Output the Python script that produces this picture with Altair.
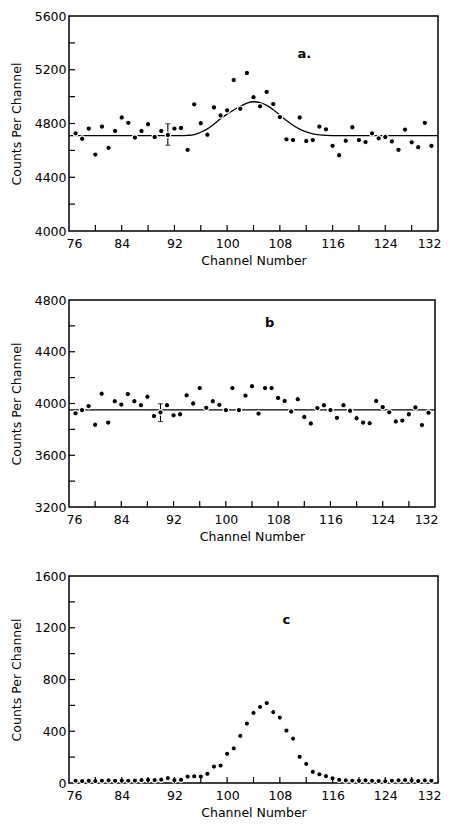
import altair as alt
import pandas as pd

# ---------------- data ----------------
channels = [77, 78, 79, 80, 81, 82, 83, 84, 85, 86, 87, 88, 89, 90, 91, 92, 93, 94, 95,
            96, 97, 98, 99, 100, 101, 102, 103, 104, 105, 106, 107, 108, 109, 110, 111,
            112, 113, 114, 115, 116, 117, 118, 119, 120, 121, 122, 123, 124, 125, 126,
            127, 128, 129, 130, 131]

counts_a = [4727, 4687, 4762, 4569, 4777, 4619, 4745, 4845, 4805, 4695, 4745, 4795, 4700,
            4745, 4715, 4762, 4767, 4604, 4943, 4802, 4717, 4920, 4860, 4898, 5124, 4910,
            5176, 4996, 4928, 5036, 4945, 4848, 4682, 4677, 4845, 4670, 4677, 4777, 4757,
            4634, 4564, 4672, 4772, 4677, 4662, 4727, 4690, 4700, 4667, 4604, 4755, 4660,
            4624, 4805, 4634]

counts_b = [3924, 3949, 3980, 3836, 4076, 3853, 4018, 3992, 4073, 4018, 3987, 4053, 3904,
            3932, 3987, 3909, 3917, 4063, 4000, 4119, 3967, 4018, 3990, 3949, 4119, 3949,
            4061, 4134, 3922, 4119, 4119, 4043, 4020, 3939, 4033, 3896, 3846, 3965, 3987,
            3949, 3889, 3987, 3944, 3886, 3853, 3848, 4020, 3972, 3932, 3861, 3868, 3917,
            3970, 3833, 3929]

counts_c = [18, 16, 17, 15, 18, 20, 17, 19, 18, 19, 22, 24, 22, 26, 38, 22, 25, 50, 52, 50,
            72, 127, 135, 226, 268, 364, 460, 542, 588, 618, 548, 506, 406, 343, 203, 148,
            87, 68, 53, 37, 25, 20, 18, 18, 20, 17, 15, 14, 18, 20, 22, 20, 16, 20, 18]

fit_a_channels = [76, 77, 78, 79, 80, 81, 82, 83, 84, 85, 86, 87, 88, 89, 90, 91, 92, 93,
                  94, 95, 96, 97, 98, 99, 100, 101, 102, 103, 104, 105, 106, 107, 108, 109,
                  110, 111, 112, 113, 114, 115, 116, 117, 118, 119, 120, 121, 122, 123, 124,
                  125, 126, 127, 128, 129, 130, 131, 132]
fit_a = [4710, 4710, 4710, 4710, 4710, 4710, 4710, 4710, 4710, 4710, 4710, 4710, 4710, 4710,
         4710, 4710, 4710, 4710, 4712, 4718, 4735, 4760, 4795, 4835, 4870, 4900, 4928, 4952,
         4962, 4955, 4935, 4903, 4862, 4822, 4787, 4758, 4737, 4723, 4715, 4711, 4710, 4710,
         4710, 4710, 4710, 4710, 4710, 4710, 4710, 4710, 4710, 4710, 4710, 4710, 4710, 4710,
         4710]

fit_b_channels = [76, 132]
fit_b = [3950, 3950]

err_a_channel, err_a_low, err_a_high = 91, 4638, 4798
err_b_channel, err_b_low, err_b_high = 90, 3860, 3998

x_label_values = [76, 84, 92, 100, 108, 116, 124, 132]
x_tick_values = [80, 84, 88, 92, 96, 100, 104, 108, 112, 116, 120, 124, 128]

y_labels_a = [4000, 4400, 4800, 5200, 5600]
y_ticks_a = [4200, 4400, 4600, 4800, 5000, 5200, 5400]
y_labels_b = [3200, 3600, 4000, 4400, 4800]
y_ticks_b = [3400, 3600, 3800, 4000, 4200, 4400, 4600]
y_labels_c = [0, 400, 800, 1200, 1600]
y_ticks_c = [200, 400, 600, 800, 1000, 1200, 1400]

panel_letters = ["a.", "b", "c"]
letter_x = [111.7, 106.7, 109.0]
letter_y = [5320, 4620, 1262]

FONT = "DejaVu Sans"


def panel(counts, ydom, ylabels, yticks, letter, lx, ly, w, h,
          fit_ch=None, fit_vals=None, err=None, dot_size=30):
    xenc = alt.X("channel:Q",
                 scale=alt.Scale(domain=[76, 132], nice=False, zero=False),
                 axis=alt.Axis(values=x_label_values, title="Channel Number",
                               ticks=False, domain=False, grid=False,
                               labelFlush=True, labelFlushOffset=3,
                               labelPadding=6, titlePadding=5))
    yenc = alt.Y("counts:Q",
                 scale=alt.Scale(domain=ydom, nice=False, zero=False),
                 axis=alt.Axis(values=ylabels, title="Counts Per Channel", format="d",
                               ticks=False, domain=False, grid=False,
                               labelPadding=3, titlePadding=11))

    layers = []
    if fit_ch is not None:
        fit_df = pd.DataFrame({"channel": fit_ch, "counts": fit_vals})
        layers.append(alt.Chart(fit_df).mark_line(color="black", strokeWidth=1.3,
                                                  interpolate="monotone")
                      .encode(x=xenc, y=yenc))
    if err is not None:
        ch, lo, hi = err
        err_df = pd.DataFrame({"channel": [ch], "counts": [lo], "high": [hi]})
        layers.append(alt.Chart(err_df).mark_rule(color="black", strokeWidth=1.1)
                      .encode(x=xenc, y=yenc, y2="high:Q"))
        cap_df = pd.DataFrame({"channel": [ch, ch], "counts": [lo, hi]})
        layers.append(alt.Chart(cap_df).mark_tick(color="black", orient="horizontal",
                                                  size=5, thickness=1.1)
                      .encode(x=xenc, y=yenc))
    pts = pd.DataFrame({"channel": channels, "counts": counts})
    layers.append(alt.Chart(pts).mark_circle(size=dot_size, color="black", opacity=1,
                                             stroke="white", strokeWidth=1.2)
                  .encode(x=xenc, y=yenc))
    xt = pd.DataFrame({"channel": x_tick_values})
    layers.append(alt.Chart(xt).mark_rule(color="black", strokeWidth=1.2)
                  .encode(x=xenc, y=alt.value(h), y2=alt.value(h - 6)))
    yt = pd.DataFrame({"counts": yticks})
    layers.append(alt.Chart(yt).mark_rule(color="black", strokeWidth=1.2)
                  .encode(y=yenc, x=alt.value(0), x2=alt.value(6)))
    lab = pd.DataFrame({"channel": [lx], "counts": [ly], "t": [letter]})
    layers.append(alt.Chart(lab).mark_text(font=FONT, fontSize=13, fontWeight="bold",
                                           color="black")
                  .encode(x=xenc, y=yenc, text="t:N"))
    return alt.layer(*layers).properties(width=w, height=h)


pa = panel(counts_a, [4000, 5600], y_labels_a, y_ticks_a, panel_letters[0],
           letter_x[0], letter_y[0], 369, 215, fit_a_channels, fit_a,
           (err_a_channel, err_a_low, err_a_high))
pb = panel(counts_b, [3200, 4800], y_labels_b, y_ticks_b, panel_letters[1],
           letter_x[1], letter_y[1], 366, 207, fit_b_channels, fit_b,
           (err_b_channel, err_b_low, err_b_high))
pc = panel(counts_c, [0, 1600], y_labels_c, y_ticks_c, panel_letters[2],
           letter_x[2], letter_y[2], 369, 207, dot_size=28)

chart = alt.vconcat(pa, pb, pc, spacing=25).properties(
    padding={"top": 1, "left": 1, "right": 0, "bottom": 0}
).configure_view(
    stroke="black", strokeWidth=1.5
).configure_axis(
    labelFont=FONT, titleFont=FONT, labelFontSize=12.5, titleFontSize=12.5,
    labelColor="black", titleColor="black", titleFontWeight="normal"
)

chart.save("out.html", embed_options={"renderer": "svg", "actions": False})
